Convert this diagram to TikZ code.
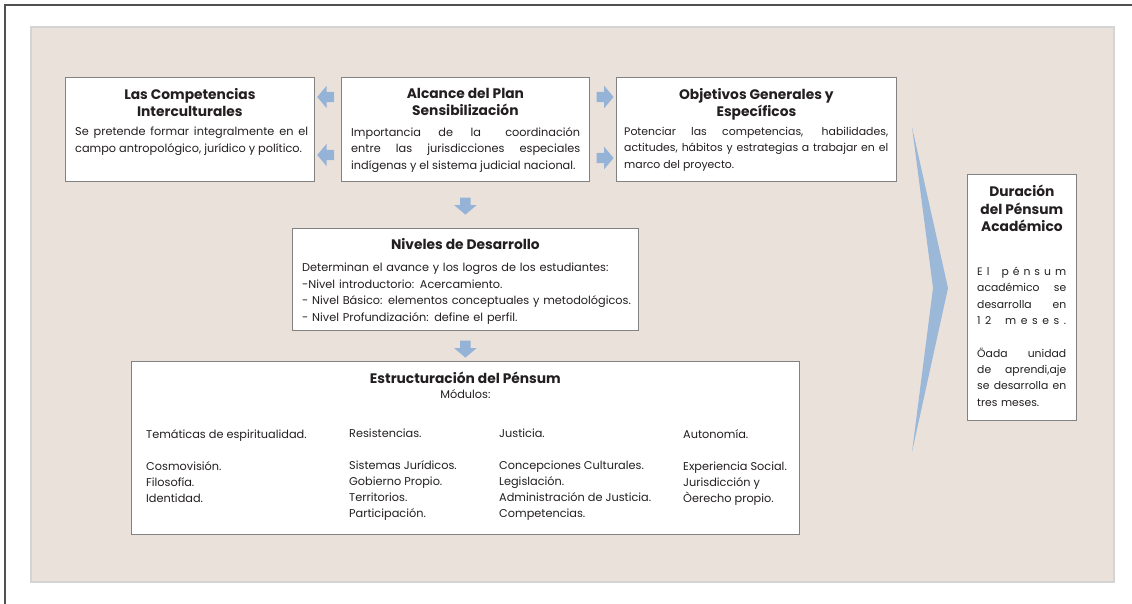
\documentclass[tikz,border=0pt]{standalone}
\usepackage{fontspec}
\setmainfont{Poppins}
\usetikzlibrary{shapes.arrows,calc}
\definecolor{panel}{RGB}{234,226,218}
\definecolor{panelborder}{RGB}{212,212,212}
\definecolor{arrowblue}{RGB}{149,179,215}
\definecolor{chevblue}{RGB}{155,184,216}
\definecolor{boxline}{RGB}{130,130,130}
\definecolor{frameline}{RGB}{80,80,80}
\definecolor{txt}{RGB}{35,31,32}
\newcommand{\sline}[1]{\leavevmode\hbox to 89pt{#1}}
\hyphenpenalty=10000
\exhyphenpenalty=10000
\begin{document}
\begin{tikzpicture}[x=1pt,y=-1pt,
  box/.style={draw=boxline, line width=0.8pt, fill=white, rectangle, inner sep=0pt, anchor=north west},
  ttl/.style={anchor=north, inner sep=0pt, align=center, text=txt, font=\bfseries\fontsize{13.8}{17.5}\selectfont},
  body/.style={anchor=north west, inner sep=0pt, align=justify, text=txt, font=\fontsize{11.3}{16.5}\selectfont},
  col/.style={anchor=north west, inner sep=0pt, align=left, text=txt, font=\fontsize{11.3}{16}\selectfont},
  barrow/.style={single arrow, fill=arrowblue, draw=none, minimum height=17pt,
     inner sep=5pt, single arrow head extend=6pt, single arrow tip angle=100}
]
\useasboundingbox (0,0) rectangle (1132,604);
% outer frame
\draw[frameline, line width=1.5pt] (5,604) -- (5,5) -- (1132,5);
% panel
\draw[draw=panelborder, fill=panel, line width=2pt] (31,27) rectangle (1114,582);
% chevron
\fill[chevblue] (912,127) -- (948,288) -- (912,452) -- (933,288) -- cycle;

% boxes
\node[box, minimum width=249pt, minimum height=104pt] (comp) at (65,77) {};
\node[box, minimum width=248pt, minimum height=104pt] (alc) at (341,77) {};
\node[box, minimum width=280pt, minimum height=104pt] (obj) at (616,77) {};
\node[box, minimum width=346pt, minimum height=102pt] (niv) at (292,228) {};
\node[box, minimum width=668pt, minimum height=173pt] (est) at (131,361) {};
\node[box, minimum width=109pt, minimum height=246pt] (dur) at (967,174) {};

% titles
\node[ttl] (compT) at ($(comp.north)+(0,11)$) {Las Competencias\\Interculturales};
\node[ttl] (alcT) at ($(alc.north)+(0,11)$) {Alcance del Plan\\Sensibilización};
\node[ttl] (objT) at ($(obj.north)+(0,11)$) {Objetivos Generales y\\Específicos};
\node[ttl] (nivT) at ($(niv.north)+(0,10)$) {Niveles de Desarrollo};
\node[ttl, align=center] (estT) at ($(est.north)+(0,11)$) {Estructuración del Pénsum\\[-3pt]{\mdseries\fontsize{11.3}{14}\selectfont Módulos:}};
\node[ttl] (durT) at ($(dur.north)+(0,11)$) {Duración\\del Pénsum\\Académico};

% bodies
\node[body, text width=233pt] (compB) at (75,127) {Se pretende formar integralmente en el\linebreak campo antropológico, jurídico y político.};
\node[body, text width=229pt] (alcB) at (351,127) {Importancia de la\hspace{0.6em} coordinación\linebreak entre las jurisdicciones especiales\linebreak indígenas y el sistema judicial nacional.};
\node[body, text width=264pt, font=\fontsize{10.9}{16.5}\selectfont] (objB) at (624,127) {Potenciar las competencias, habilidades,\linebreak actitudes, hábitos y estrategias a trabajar en el\linebreak marco del proyecto.};
\node[body, align=left, text width=335pt] (nivB) at (302,263) {Determinan el avance y los logros de los estudiantes:\\-Nivel introductorio: Acercamiento.\\- Nivel Básico: elementos conceptuales y metodológicos.\\- Nivel Profundización: define el perfil.};
\node[body, align=left, text width=89pt, font=\fontsize{10.8}{16.3}\selectfont] (durB) at (977,267) {\sline{E\hfill l\hfill\hfill\hfill p\hfill é\hfill n\hfill s\hfill u\hfill m}\\\sline{académico\hfill se}\\\sline{desarrolla\hfill en}\\\sline{1\hfill 2\hfill\hfill\hfill m\hfill e\hfill s\hfill e\hfill s\hfill .}\\[16.3pt]\sline{Öada\hfill unidad}\\\sline{de\hfill aprendi,aje}\\\sline{se\hfill desarrolla\hfill en}\\tres meses.};

% module columns
\node[col] (m1) at (146,429) {Temáticas de espiritualidad.\\[16pt]Cosmovisión.\\Filosofía.\\Identidad.};
\node[col] (m2) at (349,429) {Resistencias.\\[16pt]Sistemas Jurídicos.\\Gobierno Propio.\\Territorios.\\Participación.};
\node[col] (m3) at (499,429) {Justicia.\\[16pt]Concepciones Culturales.\\Legislación.\\Administración de Justicia.\\Competencias.};
\node[col] (m4) at (683,429) {Autonomía.\\[16pt]Experiencia Social.\\Jurisdicción y\\Òerecho propio.};

% block arrows
\node[barrow, shape border rotate=180] (a1) at ($(comp.north east)!0.5!(alc.north west)+(0,20)$) {};
\node[barrow, shape border rotate=180] (a2) at ($(comp.north east)!0.5!(alc.north west)+(0,78)$) {};
\node[barrow] (a3) at ($(alc.north east)!0.5!(obj.north west)+(0,20)$) {};
\node[barrow] (a4) at ($(alc.north east)!0.5!(obj.north west)+(0,81)$) {};
\node[barrow, shape border rotate=270] (a5) at ($(alc.south)!0.5!(niv.north)+(0,-1)$) {};
\node[barrow, shape border rotate=270] (a6) at ($(niv.south)!0.5!(est.north)+(0,1)$) {};
\end{tikzpicture}
\end{document}
